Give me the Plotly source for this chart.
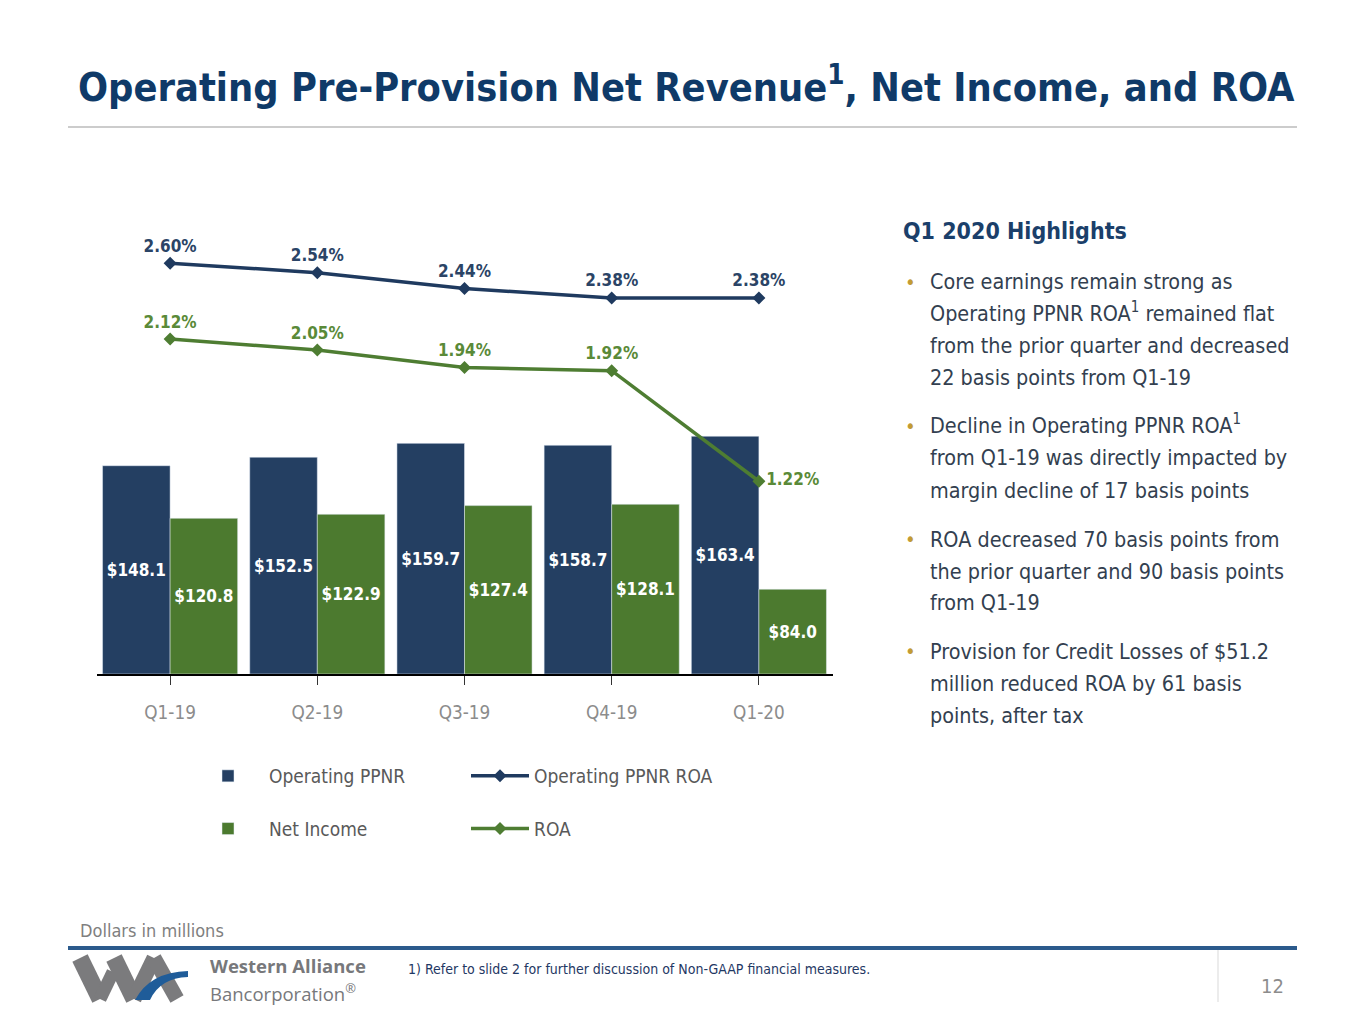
import plotly.graph_objects as go

# page body has an 8px margin, so the figure is a bit smaller than the window
FW, FH = 1349, 1008
OFF = 8

def px(x):
    return (x - OFF) / FW

def py(y):
    return 1 - (y - OFF) / FH

# ---- data
quarters = ["Q1-19", "Q2-19", "Q3-19", "Q4-19", "Q1-20"]
op_ppnr = [148.1, 152.5, 159.7, 158.7, 163.4]
net_income = [120.8, 122.9, 127.4, 128.1, 84.0]
op_ppnr_roa = [2.60, 2.54, 2.44, 2.38, 2.38]
roa = [2.12, 2.05, 1.94, 1.92, 1.22]
bar_floor = 40  # bar axis does not start at zero

bullets = [
    ["Core earnings remain strong as",
     "Operating PPNR ROA<sup>1</sup> remained flat",
     "from the prior quarter and decreased",
     "22 basis points from Q1-19"],
    ["Decline in Operating PPNR ROA<sup>1</sup>",
     "from Q1-19 was directly impacted by",
     "margin decline of 17 basis points"],
    ["ROA decreased 70 basis points from",
     "the prior quarter and 90 basis points",
     "from Q1-19"],
    ["Provision for Credit Losses of $51.2",
     "million reduced ROA by 61 basis",
     "points, after tax"],
]
bullet_y = [[282, 314, 346, 377], [426, 458, 490], [539, 571, 602], [651, 683, 715]]

NAVY = "#243F62"
GREEN = "#4C7A2F"
FONT = "DejaVu Sans Condensed, Liberation Sans Narrow, Arial Narrow, sans-serif"

fig = go.Figure()

fig.add_trace(go.Bar(
    x=quarters, y=[v - bar_floor for v in op_ppnr], base=bar_floor,
    name="Operating PPNR", marker_color=NAVY,
    text=[f"${v:.1f}" for v in op_ppnr], textposition="inside",
    insidetextanchor="middle", textangle=0,
    textfont=dict(family=FONT, size=17, color="white", weight="bold"),
    legend="legend", legendgroup="a",
))
fig.add_trace(go.Bar(
    x=quarters, y=[v - bar_floor for v in net_income], base=bar_floor,
    name="Net Income", marker_color=GREEN,
    text=[f"${v:.1f}" for v in net_income], textposition="inside",
    insidetextanchor="middle", textangle=0,
    textfont=dict(family=FONT, size=17, color="white", weight="bold"),
    legend="legend", legendgroup="b",
))
fig.add_trace(go.Scatter(
    x=quarters, y=op_ppnr_roa, yaxis="y2", name="Operating PPNR ROA",
    mode="lines+markers+text", line=dict(color="#1F3A5F", width=3.5),
    marker=dict(symbol="diamond", size=10, color="#1F3A5F"),
    text=[f"{v:.2f}%" for v in op_ppnr_roa], textposition="top center",
    textfont=dict(family=FONT, size=17, color="#2B4466", weight="bold"),
    legend="legend2", legendgroup="c", cliponaxis=False,
))
fig.add_trace(go.Scatter(
    x=quarters, y=roa, yaxis="y2", name="ROA",
    mode="lines+markers+text", line=dict(color="#4E7D32", width=3.5),
    marker=dict(symbol="diamond", size=10, color="#4E7D32"),
    text=[f"{v:.2f}%" for v in roa],
    textposition=["top center"] * 4 + ["middle right"],
    textfont=dict(family=FONT, size=17, color="#5A8A38", weight="bold"),
    legend="legend2", legendgroup="d", cliponaxis=False,
))

shapes = [
    dict(type="line", xref="paper", yref="paper", x0=px(68), x1=px(1297), y0=py(127), y1=py(127),
         line=dict(color="#CCCCCC", width=2)),
    dict(type="line", xref="paper", yref="paper", x0=px(68), x1=px(1297), y0=py(948), y1=py(948),
         line=dict(color="#2B5A8C", width=4)),
    dict(type="line", xref="paper", yref="paper", x0=px(1218), x1=px(1218), y0=py(950), y1=py(1002),
         line=dict(color="#D9D9D9", width=1)),
]

# logo strokes
logo_segs = [((80, 958), (100, 999), 17), ((100, 999), (113, 972), 13),
             ((114, 958), (134, 999), 17), ((134, 999), (154, 958), 15),
             ((154, 958), (177, 999), 15)]
for (a, b, w) in logo_segs:
    shapes.append(dict(type="line", xref="paper", yref="paper", x0=px(a[0]), y0=py(a[1]),
                       x1=px(b[0]), y1=py(b[1]), line=dict(color="#7B7B7D", width=w)))

def pth(cmds):
    out = []
    for c in cmds:
        if isinstance(c, str):
            out.append(c)
        else:
            out.append(f"{px(c[0]):.5f},{py(c[1]):.5f}")
    return " ".join(out)

shapes.append(dict(type="path", xref="paper", yref="paper",
                   path=pth(["M", (135, 1000), "Q", (150, 972), (188, 971), "L", (188, 977),
                             "Q", (160, 978), (150, 1000), "Z"]),
                   fillcolor="#1F5C99", line=dict(width=0)))

annotations = [
    dict(text="Operating Pre-Provision Net Revenue<sup>1</sup>, Net Income, and ROA",
         x=px(76), y=py(84), xanchor="left", yanchor="middle",
         font=dict(family=FONT, size=39.4, color="#0F3A68", weight="bold")),
    dict(text="Q1 2020 Highlights", x=px(901), y=py(231), xanchor="left", yanchor="middle",
         font=dict(family=FONT, size=23, color="#1B3F6A", weight="bold")),
    dict(text="Dollars in millions", x=px(78), y=py(930), xanchor="left", yanchor="middle",
         font=dict(family=FONT, size=18, color="#7F7F7F")),
    dict(text="1) Refer to slide 2 for further discussion of Non-GAAP financial measures.",
         x=px(406), y=py(969), xanchor="left", yanchor="middle",
         font=dict(family=FONT, size=14, color="#1F3864")),
    dict(text="12", x=px(1272), y=py(986), xanchor="center", yanchor="middle",
         font=dict(family=FONT, size=20, color="#8C8C8C")),
    dict(text="<b>Western Alliance</b>", x=px(208), y=py(965), xanchor="left", yanchor="middle",
         font=dict(family="Open Sans, DejaVu Sans, sans-serif", size=18.5, color="#77787B")),
    dict(text="Bancorporation<sup>®</sup>", x=px(208), y=py(992), xanchor="left", yanchor="middle",
         font=dict(family="Open Sans, DejaVu Sans, sans-serif", size=18.5, color="#77787B")),
]
for lines, ys in zip(bullets, bullet_y):
    annotations.append(dict(text="•", x=px(903), y=py(ys[0]), xanchor="left", yanchor="middle",
                            font=dict(family=FONT, size=20, color="#C29B35")))
    for ln, yy in zip(lines, ys):
        if "<sup>" in ln:
            yy -= 2
        annotations.append(dict(text=ln, x=px(928), y=py(yy), xanchor="left", yanchor="middle",
                                align="left",
                                font=dict(family=FONT, size=21.4, color="#333F50")))
for a in annotations:
    a["showarrow"] = False
    a["xref"] = "paper"
    a["yref"] = "paper"

fig.update_layout(
    width=FW, height=FH, margin=dict(l=0, r=0, t=0, b=0),
    paper_bgcolor="white", plot_bgcolor="white",
    barmode="group", bargap=0.082, bargroupgap=0,
    xaxis=dict(domain=[px(96.5), px(832.5)], type="category", showline=True,
               linecolor="black", linewidth=2, ticks="outside", ticklen=9,
               tickcolor="#333333", tickwidth=1, showgrid=False, ticklabelstandoff=11,
               tickfont=dict(family=FONT, size=18.8, color="#8C8C8C")),
    yaxis=dict(domain=[py(674), py(200)], range=[bar_floor, 286], visible=False),
    yaxis2=dict(overlaying="y", range=[0, 3.0], visible=False),
    legend=dict(x=px(187), y=py(757), xanchor="left", yanchor="top", orientation="v",
                tracegroupgap=25, itemwidth=72,
                font=dict(family=FONT, size=19, color="#595959"),
                bgcolor="rgba(0,0,0,0)"),
    legend2=dict(x=px(466), y=py(757), xanchor="left", yanchor="top", orientation="v",
                 tracegroupgap=25, itemwidth=58,
                 font=dict(family=FONT, size=19, color="#595959"),
                 bgcolor="rgba(0,0,0,0)"),
    shapes=shapes, annotations=annotations, showlegend=True,
)

fig.write_html("out.html")
